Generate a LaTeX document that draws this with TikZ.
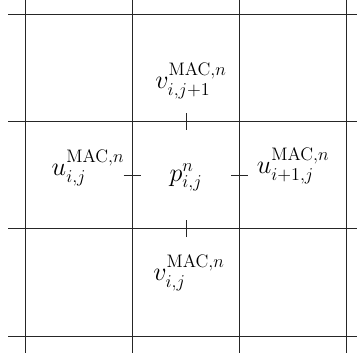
\documentclass[tikz,border=0pt]{standalone}
\usepackage{amsmath}
\usepackage{tikz}
\usetikzlibrary{positioning}

\begin{document}
\begin{tikzpicture}[x=3cm, y=3cm,
  gridline/.style={line width=0.7pt, black!85},
  facetick/.style={line width=0.7pt, black!85},
  macval/.style={font=\huge, anchor=base, inner sep=0pt}
]
  \useasboundingbox (-0.233,-0.224) rectangle (3.093,3.131);
  \clip (-0.233,-0.224) rectangle (3.093,3.131);

  % grid of cells
  \foreach \k in {0,1,2,3} {
    \draw[gridline] (-0.158,\k) -- (3.2,\k);
    \draw[gridline] (\k,-0.158) -- (\k,3.2);
  }

  % marks on the faces
  \draw[facetick] (0.92,1.5) -- (1.08,1.5);
  \draw[facetick] (1.92,1.5) -- (2.08,1.5);
  \draw[facetick] (1.5,0.92) -- (1.5,1.08);
  \draw[facetick] (1.5,1.92) -- (1.5,2.08);

  \node[macval] (pc) at (1.5,1.444) {$p^n_{i,j}$};
  \node[macval] (ul) at (0.587,1.5) {$u^{\mathrm{MAC},n}_{i,j}$};
  \node[macval] (ur) at (2.498,1.518) {$u^{\mathrm{MAC},n}_{i+1,j}$};
  \node[macval] (vt) at (1.547,2.31) {$v^{\mathrm{MAC},n}_{i,j+1}$};
  \node[macval] (vb) at (1.528,0.521) {$v^{\mathrm{MAC},n}_{i,j}$};
\end{tikzpicture}
\end{document}
